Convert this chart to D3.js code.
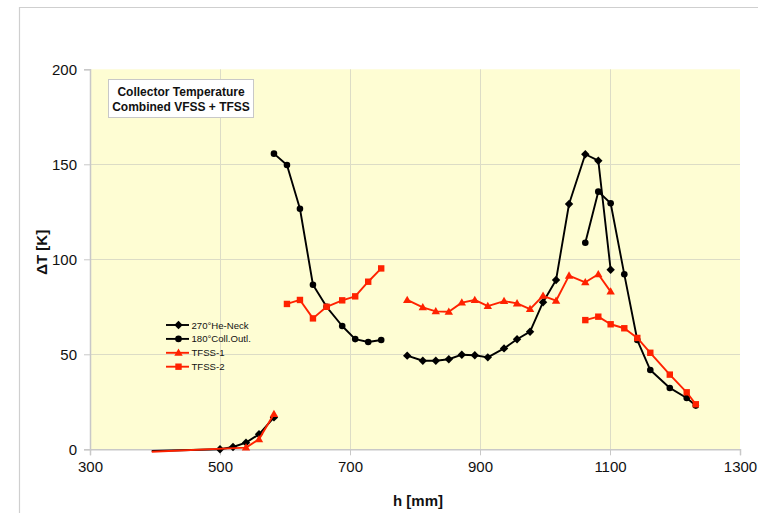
<!DOCTYPE html>
<html>
<head>
<meta charset="utf-8">
<script src="https://cdn.jsdelivr.net/npm/d3@7"></script>
<style>
  html, body { margin: 0; padding: 0; background: #fff; }
  svg { display: block; font-family: Arial, "Liberation Sans", Helvetica, sans-serif; }
</style>
</head>
<body>
<svg id="chart" width="758" height="513"></svg>
<script>
// Heights h [mm] and temperature rise dT [K]; null marks a gap in a trace.
const heNeckH = [395, 500, 520, 540, 560, 583, null, 788, 812, 832, 852, 872, 892, 912, 937, 957, 977, 997, 1017, 1037, 1062, 1082, 1101];
const heNeckT = [-0.9, 0, 1.2, 3.5, 7.9, 16.8, null, 49.3, 46.6, 46.6, 47.4, 49.8, 49.5, 48.4, 53.1, 57.9, 61.9, 77.4, 89.1, 129.1, 155.3, 151.9, 94.5];

const collOutlH = [583, 603, 623, 643, 664, 688, 708, 728, 748, null, 1062, 1082, 1101, 1122, 1142, 1162, 1192, 1218, 1232];
const collOutlT = [155.6, 149.6, 126.6, 86.6, 75, 64.9, 58, 56.5, 57.5, null, 108.7, 135.6, 129.5, 92.1, 57.5, 41.7, 32.3, 27, 23];

const tfss1H = [395, 540, 560, 583, null, 788, 812, 832, 852, 872, 892, 912, 937, 957, 977, 997, 1017, 1037, 1062, 1082, 1101];
const tfss1T = [-1.3, 0.9, 5.3, 18.6, null, 78.6, 74.7, 72.6, 72.4, 77.2, 78.6, 75.4, 78, 76.8, 73.8, 80.8, 78.2, 91.4, 87.9, 92.1, 83];

const tfss2H = [603, 623, 643, 664, 688, 708, 728, 748, null, 1062, 1082, 1101, 1122, 1142, 1162, 1192, 1218, 1232];
const tfss2T = [76.5, 78.6, 68.9, 75, 78.4, 80.5, 88.2, 95.2, null, 68, 69.8, 65.8, 63.7, 58.6, 50.8, 39.3, 30, 23.7];

const seriesNames = ["270°He-Neck", "180°Coll.Outl.", "TFSS-1", "TFSS-2"];
const xTicks = [300, 500, 700, 900, 1100, 1300];
const yTicks = [0, 50, 100, 150, 200];
const titleLines = ["Collector Temperature", "Combined VFSS + TFSS"];
const xTitle = "h [mm]";
const yTitle = "ΔT [K]";

// The lead-in point where the low traces start carries no symbol.
const traceStart = 395;

const svg = d3.select("#chart");
const W = 758, H = 513;
const plot = { left: 90, right: 740, top: 69.3, bottom: 449.3 };

const x = d3.scaleLinear().domain([300, 1300]).range([plot.left, plot.right]);
const y = d3.scaleLinear().domain([0, 200]).range([plot.bottom, plot.top]);

// outer frame (top and left edges only)
svg.append("path")
  .attr("d", `M19.5,${H} V7.5 H${W}`)
  .attr("fill", "none").attr("stroke", "#cfcfcf").attr("stroke-width", 1.2);

// plot area
svg.append("rect")
  .attr("x", plot.left).attr("y", plot.top)
  .attr("width", plot.right - plot.left).attr("height", plot.bottom - plot.top)
  .attr("fill", "#fefdd3");

// grid
const grid = svg.append("g").attr("stroke", "#dcdcc6").attr("stroke-width", 1);
grid.selectAll("line.h").data(yTicks.filter(v => v > 0 && v < 200)).join("line")
  .attr("x1", plot.left).attr("x2", plot.right)
  .attr("y1", d => Math.round(y(d)) + 0.5).attr("y2", d => Math.round(y(d)) + 0.5);
grid.selectAll("line.v").data(xTicks.filter(v => v > 300 && v < 1300)).join("line")
  .attr("y1", plot.top).attr("y2", plot.bottom)
  .attr("x1", d => Math.round(x(d)) + 0.5).attr("x2", d => Math.round(x(d)) + 0.5);

// axes
const xAxis = svg.append("g")
  .attr("transform", `translate(0,${plot.bottom})`)
  .call(d3.axisBottom(x).tickValues(xTicks).tickSize(6).tickPadding(6).tickFormat(d3.format("d")));
const yAxis = svg.append("g")
  .attr("transform", `translate(${plot.left},0)`)
  .call(d3.axisLeft(y).tickValues(yTicks).tickSize(6).tickPadding(7).tickFormat(d3.format("d")));
[xAxis, yAxis].forEach(a => {
  a.select(".domain").attr("stroke", "#c8c8c8").attr("stroke-width", 1.5);
  a.selectAll(".tick line").attr("stroke", "#c8c8c8");
  a.selectAll(".tick text").attr("fill", "#111").style("font-size", "15px")
    .style("font-family", "Arial, 'Liberation Sans', sans-serif");
});

// axis titles
svg.append("text")
  .attr("x", x(900) - 62).attr("y", 506)
  .attr("text-anchor", "middle").attr("font-weight", "bold").attr("font-size", 15)
  .attr("fill", "#111").text(xTitle);
svg.append("text")
  .attr("transform", `translate(47,${y(100) - 7}) rotate(-90)`)
  .attr("text-anchor", "middle").attr("font-weight", "bold").attr("font-size", 15)
  .attr("fill", "#111").text(yTitle);

// marker shapes
const markers = {
  diamond: g => g.append("path").attr("d", "M0,-4.2L4.2,0L0,4.2L-4.2,0Z"),
  circle: g => g.append("circle").attr("r", 3.3),
  triangle: g => g.append("path").attr("d", "M0,-4.3L4.2,3L-4.2,3Z"),
  square: g => g.append("rect").attr("x", -3.2).attr("y", -3.2).attr("width", 6.4).attr("height", 6.4)
};

const series = [
  { name: seriesNames[0], h: heNeckH, t: heNeckT, color: "#000000", marker: "diamond" },
  { name: seriesNames[1], h: collOutlH, t: collOutlT, color: "#000000", marker: "circle" },
  { name: seriesNames[2], h: tfss1H, t: tfss1T, color: "#ff2200", marker: "triangle" },
  { name: seriesNames[3], h: tfss2H, t: tfss2T, color: "#ff2200", marker: "square" }
];

const line = d3.line()
  .defined(d => d.h !== null && d.t !== null)
  .x(d => x(d.h)).y(d => y(d.t));

series.forEach(s => {
  const pts = s.h.map((h, i) => ({ h, t: s.t[i] }));
  const g = svg.append("g");
  g.append("path").datum(pts)
    .attr("d", line).attr("fill", "none")
    .attr("stroke", s.color).attr("stroke-width", 1.9).attr("stroke-linejoin", "round");
  pts.filter(d => d.h !== null && d.t !== null && d.h > traceStart).forEach(d => {
    const m = g.append("g").attr("transform", `translate(${x(d.h)},${y(d.t)})`).attr("fill", s.color);
    markers[s.marker](m);
  });
});

// legend
const legend = svg.append("g").attr("transform", "translate(166,325)");
series.forEach((s, i) => {
  const row = legend.append("g").attr("transform", `translate(0,${i * 13.9})`);
  row.append("line").attr("x1", 0).attr("x2", 23).attr("y1", 0).attr("y2", 0)
    .attr("stroke", s.color).attr("stroke-width", 1.9);
  markers[s.marker](row.append("g").attr("transform", "translate(12.5,0)").attr("fill", s.color));
  row.append("text").attr("x", 25.5).attr("y", 3.5)
    .attr("font-size", 9.6).attr("fill", "#111").text(s.name);
});

// title box
const tb = svg.append("g");
tb.append("rect").attr("x", 108.5).attr("y", 79.5).attr("width", 145).attr("height", 38)
  .attr("fill", "#fff").attr("stroke", "#c8c8c8").attr("stroke-width", 1);
titleLines.forEach((t, i) => {
  tb.append("text").attr("x", 181).attr("y", 96 + i * 15)
    .attr("text-anchor", "middle").attr("font-weight", "bold").attr("font-size", 12)
    .attr("fill", "#111").text(t);
});
</script>
</body>
</html>
